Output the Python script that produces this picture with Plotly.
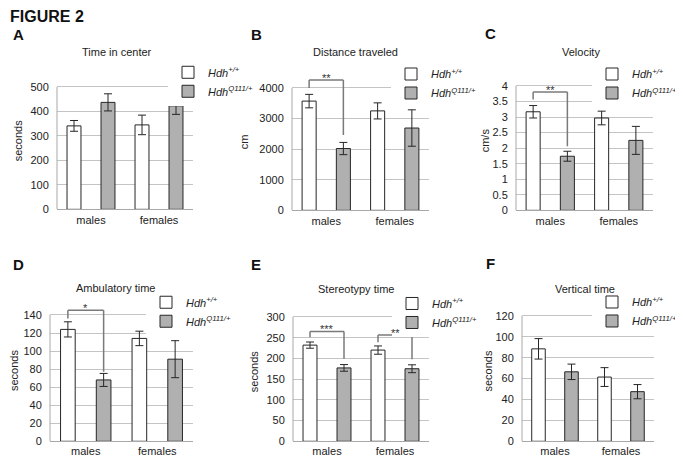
import plotly.graph_objects as go

# The page body has an 8px default margin, so the figure is sized/positioned
# to sit at (8, 8) and still fill the 683x469 window.
PAGE_W, PAGE_H = 683, 469
OFF = 8
W, H = PAGE_W - OFF, PAGE_H - OFF

# ---------------- data ----------------
categories = ["males", "females"]
series_names = ["<i>Hdh<sup>+/+</sup></i>", "<i>Hdh<sup>Q111/+</sup></i>"]

panel_letters = ["A", "B", "C", "D", "E", "F"]
panel_titles = ["Time in center", "Distance traveled", "Velocity",
                "Ambulatory time", "Stereotypy time", "Vertical time"]
y_titles = ["seconds", "cm", "cm/s", "seconds", "seconds", "seconds"]
y_max = [500, 4000, 4, 140, 300, 120]
y_step = [100, 1000, 0.5, 20, 50, 20]

time_center_wt = [341, 345]
time_center_wt_err = [22, 40]
time_center_q = [437, 423]
time_center_q_err = [35, 35]

distance_wt = [3570, 3250]
distance_wt_err = [220, 263]
distance_q = [2020, 2690]
distance_q_err = [200, 595]

velocity_wt = [3.17, 2.97]
velocity_wt_err = [0.20, 0.22]
velocity_q = [1.74, 2.25]
velocity_q_err = [0.16, 0.45]

ambulatory_wt = [124, 114]
ambulatory_wt_err = [8.4, 8]
ambulatory_q = [68, 91]
ambulatory_q_err = [7.2, 20.5]

stereotypy_wt = [232, 220]
stereotypy_wt_err = [7.5, 10]
stereotypy_q = [177, 175]
stereotypy_q_err = [8, 9.5]

vertical_wt = [88.5, 61.5]
vertical_wt_err = [9.8, 9]
vertical_q = [66.5, 47.5]
vertical_q_err = [7.4, 6.8]

# significance brackets: (group index, bracket top, left leg end, right leg end, label)
sig_distance = [(0, 4258, 4000, 2460, "**")]
sig_velocity = [(0, 3.81, 3.565, 2.06, "**")]
sig_ambulatory = [(0, 145.2, 136, 77, "*")]
sig_stereotypy = [(0, 265, 250.7, 199, "***"), (1, 256.4, 238.8, 197.6, "**")]

wt_values = [time_center_wt, distance_wt, velocity_wt, ambulatory_wt, stereotypy_wt, vertical_wt]
wt_errors = [time_center_wt_err, distance_wt_err, velocity_wt_err, ambulatory_wt_err, stereotypy_wt_err, vertical_wt_err]
q_values = [time_center_q, distance_q, velocity_q, ambulatory_q, stereotypy_q, vertical_q]
q_errors = [time_center_q_err, distance_q_err, velocity_q_err, ambulatory_q_err, stereotypy_q_err, vertical_q_err]
sig_lists = [[], sig_distance, sig_velocity, sig_ambulatory, sig_stereotypy, []]

# ---------------- layout geometry (page pixels) ----------------
HEADROOM = 1.12
plot_boxes = [  # x0, x1, y of top gridline, y of zero line
    (57, 193, 88, 212),
    (292, 429, 89, 213),
    (516, 653, 87, 213),
    (50, 193, 319, 447),
    (293, 429, 321, 447),
    (522, 654, 320, 447),
]
title_standoff = [5, 8, 0, 2, 5, 0]
title_pos = [(117, 53), (355, 53), (581, 53), (115, 292), (356, 293), (585, 293)]
letter_pos = [(19, 35), (256, 35), (491, 34), (18, 268), (256, 268), (490, 267)]
legend_pos = [  # legend left x, vertical middle of the two entries
    (168, 84.75),
    (391, 86.5),
    (592, 86.5),
    (146, 317.75),
    (392, 319),
    (592, 317.5),
]

FONT = "Liberation Sans, Arial, Helvetica, sans-serif"
TXT = "#222222"
GRID = "#c4c4c4"
AXLINE = "#a8a8a8"
BAR_GRAY = "#b0b0b0"
EDGE = "#262626"
BRACKET = "#7a7a7a"


def px_x(x):
    return (x - OFF) / W


def px_y(y):
    return 1 - (y - OFF) / H


fig = go.Figure()
layout = dict(
    width=W, height=H,
    margin=dict(l=0, r=0, t=0, b=0),
    paper_bgcolor="white", plot_bgcolor="white",
    barmode="group", bargap=0, bargroupgap=0.59,
    font=dict(family=FONT, size=11, color=TXT),
    showlegend=True,
)
shapes = []
annotations = []

annotations.append(dict(x=px_x(8), y=1, xref="paper", yref="paper",
                        text="<b>FIGURE 2</b>", showarrow=False, xanchor="left",
                        yanchor="top", yshift=2, font=dict(size=16, color="#111")))

for i in range(6):
    s = "" if i == 0 else str(i + 1)
    x0, x1, yt, yb = plot_boxes[i]
    xa = "x" + s
    ya = "y" + s
    leg = "legend" if i == 0 else f"legend{i + 1}"
    top_px = yb - (yb - yt) * HEADROOM

    fig.add_trace(go.Bar(
        x=categories, y=wt_values[i], name=series_names[0],
        marker=dict(color="white", line=dict(color=EDGE, width=1)),
        error_y=dict(type="data", array=wt_errors[i], color=EDGE, thickness=1, width=4),
        xaxis=xa, yaxis=ya, legend=leg, showlegend=True,
    ))
    fig.add_trace(go.Bar(
        x=categories, y=q_values[i], name=series_names[1],
        marker=dict(color=BAR_GRAY, line=dict(color=EDGE, width=1)),
        error_y=dict(type="data", array=q_errors[i], color=EDGE, thickness=1, width=4),
        xaxis=xa, yaxis=ya, legend=leg, showlegend=True,
    ))

    n_ticks = int(round(y_max[i] / y_step[i]))
    tickvals = [k * y_step[i] for k in range(n_ticks + 1)]

    layout["xaxis" + s] = dict(
        domain=[px_x(x0), px_x(x1)], anchor=ya, type="category",
        range=[-0.5, 1.5], showline=True, linecolor=AXLINE, linewidth=1,
        ticks="", showgrid=False, zeroline=False,
        tickfont=dict(size=11, color=TXT), fixedrange=True,
    )
    layout["yaxis" + s] = dict(
        domain=[px_y(yb), px_y(top_px)], anchor=xa,
        range=[0, y_max[i] * HEADROOM], tickmode="array", tickvals=tickvals,
        showline=False,
        showgrid=True, gridcolor=GRID, gridwidth=1, zeroline=False,
        ticks="outside", ticklen=5, tickcolor="rgba(0,0,0,0)",
        tickfont=dict(size=11, color=TXT),
        title=dict(text=y_titles[i], standoff=title_standoff[i],
                   font=dict(size=11, color=TXT)),
        fixedrange=True,
    )
    # left axis line, only up to the top gridline
    shapes.append(dict(type="line", xref=xa + " domain", yref=ya, x0=0, x1=0,
                       y0=0, y1=y_max[i], line=dict(color=AXLINE, width=1)))

    lx, lmid = legend_pos[i]
    layout[leg] = dict(
        x=px_x(lx), y=px_y(lmid - 2), xanchor="left", yanchor="middle",
        xref="paper", yref="paper", bgcolor="white", borderwidth=0,
        font=dict(size=11, color=TXT, family=FONT), itemwidth=30,
        tracegroupgap=0, traceorder="normal",
    )

    tx, ty = title_pos[i]
    annotations.append(dict(x=px_x(tx), y=px_y(ty), xref="paper", yref="paper",
                            text=panel_titles[i], showarrow=False,
                            xanchor="center", yanchor="middle",
                            font=dict(size=11, color=TXT)))
    lx2, ly3 = letter_pos[i]
    annotations.append(dict(x=px_x(lx2), y=px_y(ly3), xref="paper", yref="paper",
                            text="<b>" + panel_letters[i] + "</b>", showarrow=False,
                            xanchor="center", yanchor="middle",
                            font=dict(size=15, color="#111")))

    for g, top, left_end, right_end, label in sig_lists[i]:
        xl, xr = g - 0.25, g + 0.25
        line = dict(color=BRACKET, width=1.5)
        shapes.append(dict(type="line", xref=xa, yref=ya, x0=xl, x1=xr, y0=top, y1=top, line=line))
        shapes.append(dict(type="line", xref=xa, yref=ya, x0=xl, x1=xl, y0=left_end, y1=top, line=line))
        shapes.append(dict(type="line", xref=xa, yref=ya, x0=xr, x1=xr, y0=right_end, y1=top, line=line))
        annotations.append(dict(x=g, y=top, xref=xa, yref=ya, text=label, showarrow=False,
                                xanchor="center", yanchor="middle", yshift=2,
                                font=dict(size=11, color="#333")))

layout["shapes"] = shapes
layout["annotations"] = annotations
fig.update_layout(**layout)

fig.write_html("out.html")
